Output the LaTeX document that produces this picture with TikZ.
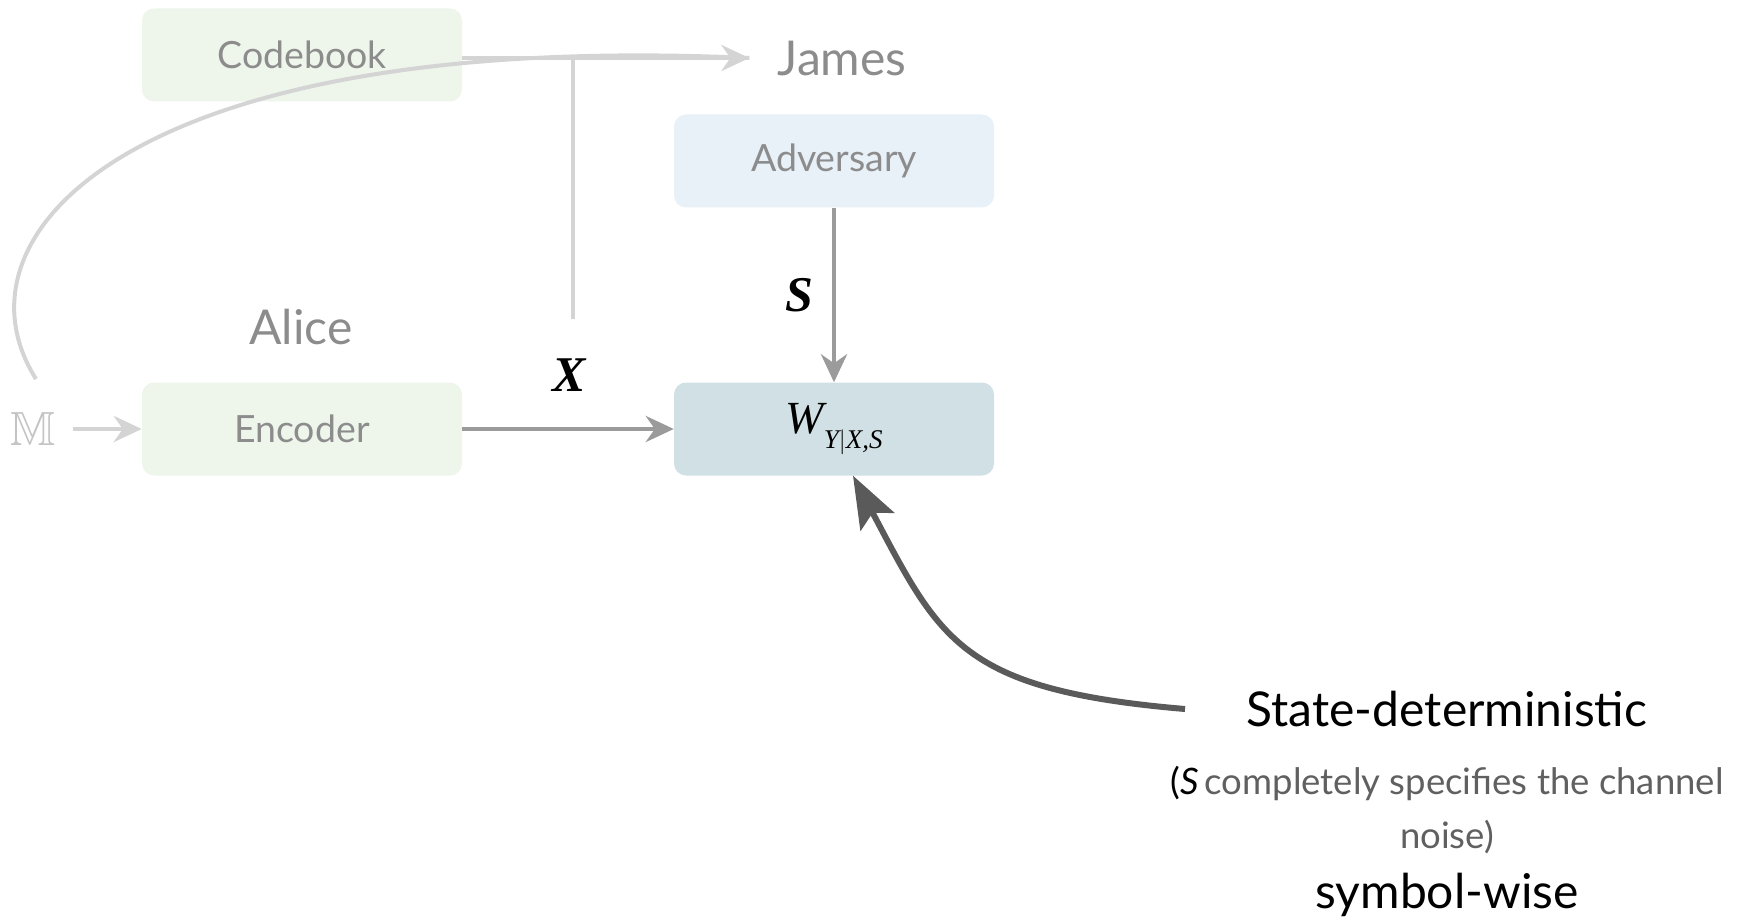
\documentclass[tikz,border=0pt]{standalone}
\usepackage{amssymb}
\usepackage{fontspec}
\setmainfont{Lato}
\newfontfamily\tms{Liberation Serif}
\usetikzlibrary{arrows.meta}
\definecolor{greenfill}{HTML}{EEF5EB}
\definecolor{bluefill}{HTML}{E8F0F8}
\definecolor{chanfill}{HTML}{D1E0E4}
\definecolor{fadetext}{HTML}{8C8C8C}
\definecolor{fadeline}{HTML}{D4D4D4}
\definecolor{midline}{HTML}{9B9B9B}
\definecolor{darkline}{HTML}{5A5A5A}
\definecolor{notetext}{HTML}{606060}
\definecolor{mtext}{HTML}{C4C4C4}
\begin{document}
\begin{tikzpicture}[x=1pt,y=-1pt,
  box/.style={rounded corners=12pt, minimum width=320pt, minimum height=93pt, inner sep=0pt, text=fadetext, font=\fontsize{37.5}{40}\selectfont},
  bigfade/.style={text=fadetext, font=\fontsize{48}{50}\selectfont},
  fadearrow/.style={draw=fadeline, line width=4.5pt, -{Stealth[length=28pt,width=26pt,inset=9pt]}},
  fadelink/.style={draw=fadeline, line width=4pt},
  midarrow/.style={draw=midline, line width=4.5pt, -{Stealth[length=28pt,width=26pt,inset=9pt]}},
  darkarrow/.style={draw=darkline, line width=6pt, -{Stealth[length=52pt,width=38pt,inset=10pt]}},
  varlabel/.style={font=\fontsize{50}{54}\selectfont\tms\bfseries\itshape},
  bignote/.style={font=\fontsize{48}{52}\selectfont, text=black},
]
\useasboundingbox (0,0) rectangle (1748,920);

% boxes
\node[box, fill=greenfill] (codebook) at (302,55) {Codebook};
\node[box, fill=greenfill] (encoder) at (302,429) {Encoder};
\node[box, fill=bluefill] (adversary) at (834,161) {\raisebox{-3pt}{Adversary}};
\node[box, fill=chanfill, text=black] (chan) at (834,429)
  {{\fontsize{46}{50}\selectfont\tms\itshape W}\raisebox{-15pt}{\fontsize{27}{30}\selectfont\tms\itshape Y$\vert$X,S}};

% plain labels
\node[bigfade, inner xsep=28pt] (james) at (842,58) {James};
\node[bigfade] (alice) at (301,327) {Alice};
\node[text=mtext, font=\fontsize{48}{50}\selectfont] (M) at (33,429) {$\mathbb{M}$};
\node[varlabel] (xlab) at (569,375) {X};
\node[varlabel] (slab) at (799,295) {S};

\node[bignote] (sdtext) at (1447,709) {State-deterministic};
\node[align=center, text=notetext, font=\fontsize{36.5}{54}\selectfont] (note) at (1447,810)
  {\textcolor{black}{(\textit{S}}\,completely specifies the channel\\noise)};
\node[bignote] (symwise) at (1447,895) {symbol-wise};

% coordinates
\coordinate (vtop) at (573,56);
\coordinate (vbot) at (573,319);
\coordinate (curvestart) at (36,379);
\coordinate (sdstart) at (1185,709);

% faded connectors
\draw[fadelink, line width=3.5pt] (vtop) -- (vbot);
\draw[fadelink] (curvestart) .. controls (-55,235) and (130,30) .. (james.west);
\draw[fadearrow] (codebook.east |- james.west) -- (james.west);
\draw[fadearrow, shorten <=14pt] (M.east) -- (encoder.west);

% main connectors
\draw[midarrow] (encoder.east) -- (chan.west);
\draw[midarrow] (adversary.south) -- (chan.north);
\draw[darkarrow] (sdstart) .. controls (960,690) and (940,640) .. ([xshift=19pt]chan.south);
\end{tikzpicture}
\end{document}
